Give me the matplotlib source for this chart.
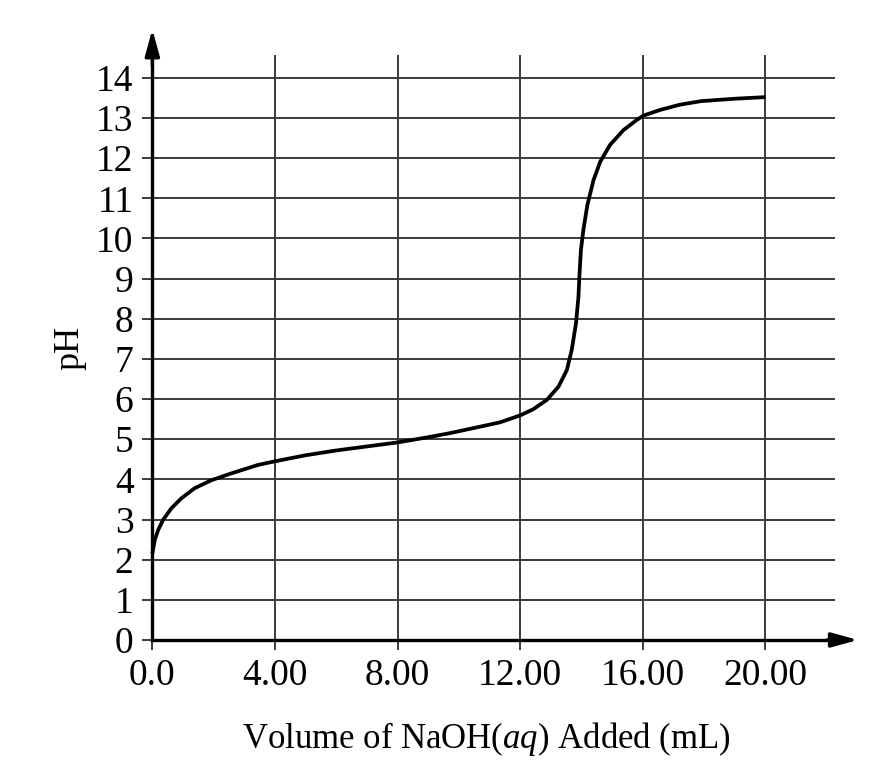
import numpy as np
import matplotlib
matplotlib.use("Agg")
import matplotlib.pyplot as plt

# ------------------------------------------------------------
# data
# ------------------------------------------------------------
vol_ml = [0.0, 0.02, 0.08, 0.19, 0.35, 0.62, 0.95, 1.38, 1.93, 2.58,
          3.45, 4.0, 5.0, 6.0, 7.0, 8.0, 9.0, 9.7, 10.8, 11.34,
          12.02, 12.43, 12.87, 13.25, 13.52, 13.68, 13.82, 13.9, 13.93, 13.98,
          14.06, 14.19, 14.39, 14.61, 14.93, 15.37, 15.8, 16.02, 16.56, 17.2,
          17.9, 19.0, 20.0]
ph = [2.15, 2.24, 2.49, 2.74, 2.99, 3.28, 3.53, 3.78, 3.98, 4.15,
      4.36, 4.45, 4.6, 4.72, 4.82, 4.92, 5.05, 5.15, 5.33, 5.42,
      5.6, 5.75, 5.98, 6.31, 6.72, 7.22, 7.89, 8.55, 9.05, 9.71,
      10.21, 10.83, 11.45, 11.91, 12.33, 12.7, 12.95, 13.06, 13.2, 13.33,
      13.42, 13.48, 13.52]

x_ticks = [0, 4, 8, 12, 16, 20]
x_tick_labels = ["0.0", "4.00", "8.00", "12.00", "16.00", "20.00"]
y_ticks = list(range(0, 15))

plt.rcParams["font.family"] = ["Liberation Serif", "DejaVu Serif"]
plt.rcParams["mathtext.fontset"] = "custom"
plt.rcParams["mathtext.rm"] = "Liberation Serif"
plt.rcParams["mathtext.it"] = "Liberation Serif:italic"

fig = plt.figure(figsize=(8.93, 7.73), dpi=100)
ax = fig.add_axes([0.1706, 0.1721, 0.7645, 0.7568])

ax.set_xlim(0, 22.27)
ax.set_ylim(0, 14.57)

# grid
grid_col = "#3a3a3a"
ax.set_xticks(x_ticks)
ax.set_xticklabels(x_tick_labels)
ax.set_yticks(y_ticks)
ax.grid(True, color=grid_col, lw=1.4)
ax.tick_params(axis="both", direction="out", length=7.5, width=1.4,
               color=grid_col, labelsize=27, pad=6)

for s in ["top", "right"]:
    ax.spines[s].set_visible(False)
for s in ["left", "bottom"]:
    ax.spines[s].set_linewidth(2.4)
    ax.spines[s].set_color("black")
    ax.spines[s].set_zorder(4)

# axis arrows
arr = dict(arrowstyle="-|>,head_length=0.8,head_width=0.22", color="black",
           lw=2.4, shrinkA=0, shrinkB=0, mutation_scale=20)
ax.annotate("", xy=(23.02, 0), xytext=(22.0, 0), arrowprops=arr,
            annotation_clip=False)
ax.annotate("", xy=(0, 15.21), xytext=(0, 14.3), arrowprops=arr,
            annotation_clip=False)

# curve
ax.plot(vol_ml, ph, color="black", lw=2.7, solid_joinstyle="round",
        solid_capstyle="butt", zorder=5, clip_on=False)

ax.text(0.489, -0.137, r"Volume of NaOH($\mathit{aq}$) Added (mL)",
        transform=ax.transAxes, ha="center", va="top", fontsize=25)
ax.text(-0.1206, 0.5, "pH", transform=ax.transAxes, rotation=90,
        ha="center", va="center", fontsize=26)

fig.savefig("out.png", dpi=100, facecolor="white")
